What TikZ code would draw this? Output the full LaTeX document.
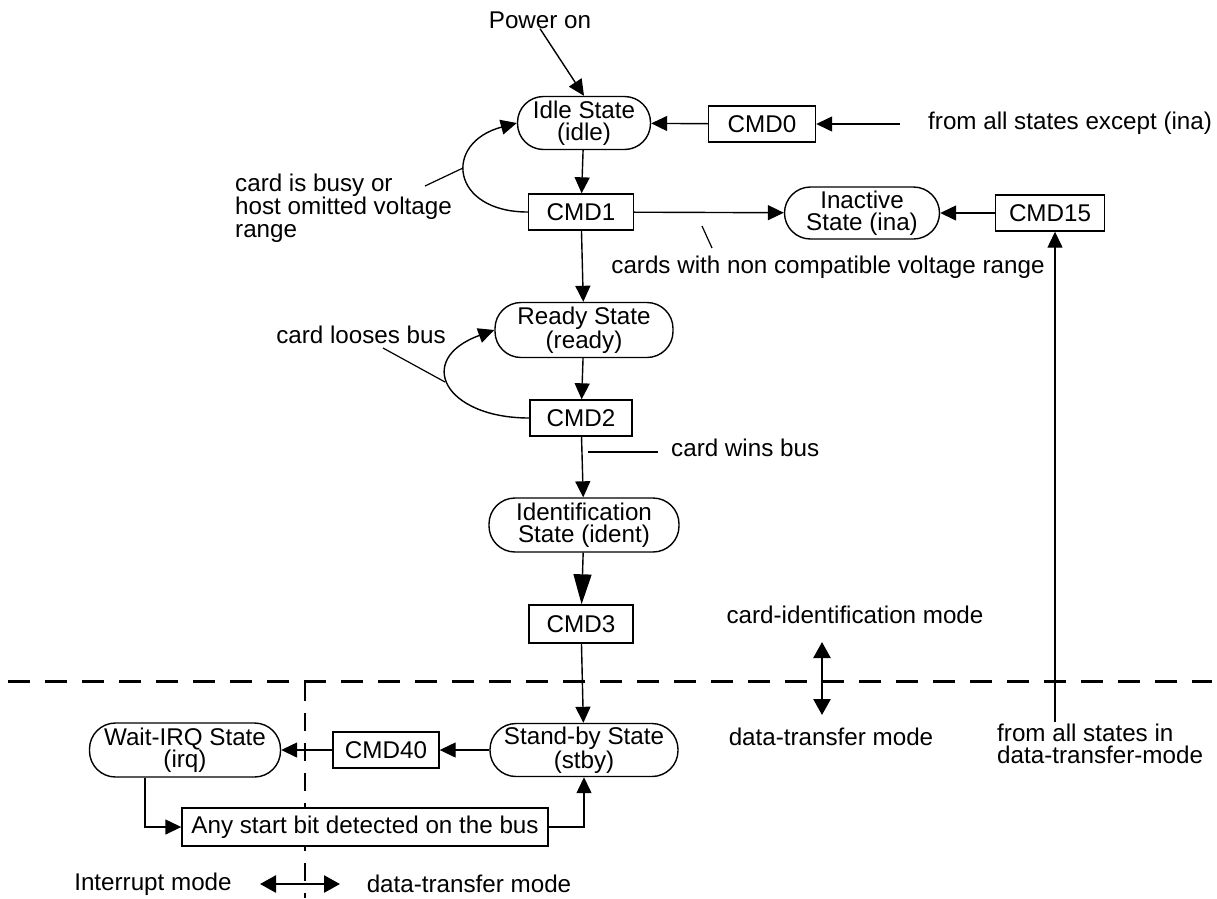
\documentclass[tikz,border=0pt]{standalone}
\usepackage{fontspec}
\setmainfont{Liberation Sans}
\usetikzlibrary{arrows.meta}

\begin{document}
\begin{tikzpicture}[x=1pt, y=-1pt,
  every node/.style={font=\fontsize{24.2}{22.5}\selectfont, align=center, inner sep=0pt},
  state/.style={draw, rectangle, rounded corners=26pt, fill=white, line width=1.4pt, minimum height=53pt},
  cmd/.style={draw, rectangle, fill=white, line width=1.4pt, minimum height=36pt},
  arr/.style={line width=1.4pt, -{Triangle[length=16pt,width=15pt]}},
  bigarr/.style={line width=1.4pt, -{Triangle[length=30pt,width=18pt]}},
  twoway/.style={line width=2.6pt, {Triangle[length=16pt,width=17pt]}-{Triangle[length=16pt,width=17pt]}},
  lead/.style={line width=1.2pt},
  modeline/.style={line width=3pt, dash pattern=on 22pt off 15pt},
  sideline/.style={line width=1.6pt, dash pattern=on 18pt off 12pt}]
  \useasboundingbox (0,0) rectangle (1217,898);
  \coordinate (dashL) at (8,681);
  \coordinate (dashR) at (1212,681);
  \coordinate (vdT) at (305,683);
  \coordinate (vdB) at (305,898);
  \draw[modeline] (dashL) -- (dashR);
  \draw[sideline] (vdT) -- (vdB);

  \node (pwr) at (540,20) {Power on};
  \node[state, minimum width=133pt] (idle) at (584,123) {Idle State\\(idle)};
  \node[cmd, minimum width=107pt] (cmd0) at (762,124) {CMD0};
  \coordinate (exc) at (900,124);
  \node[anchor=west] (excl) at (928,123) {from all states except (ina)};
  \node[cmd, minimum width=105pt] (cmd1) at (581,212) {CMD1};
  \node[state, minimum width=155pt, minimum height=52pt] (inact) at (862,213) {Inactive\\State (ina)};
  \node[cmd, minimum width=109pt] (cmd15) at (1050,213) {CMD15};
  \node[anchor=west, align=left] (busy) at (235,208) {card is busy or\\host omitted voltage\\range};
  \node (cnc) at (828,267) {cards with non compatible voltage range};
  \node[state, minimum width=178pt, minimum height=55pt] (ready) at (584,330) {Ready State\\(ready)};
  \node (loose) at (361,335) {card looses bus};
  \node[cmd, minimum width=102pt] (cmd2) at (581,418) {CMD2};
  \node[anchor=west] (wins) at (671,448) {card wins bus};
  \node[state, minimum width=190pt, minimum height=54pt] (ident) at (584,525) {Identification\\State (ident)};
  \node[cmd, minimum width=104pt, minimum height=38pt] (cmd3) at (581,624) {CMD3};
  \node (cidm) at (855,615) {card-identification mode};
  \node (dtm1) at (831,737) {data-transfer mode};
  \node[anchor=west, align=left] (allin) at (997,744) {from all states in\\data-transfer-mode};
  \node[state, minimum width=188pt] (stby) at (584,750) {Stand-by State\\(stby)};
  \node[cmd, minimum width=106pt] (cmd40) at (386,750) {CMD40};
  \node[state, minimum width=191pt, minimum height=54pt] (irq) at (185,750) {Wait-IRQ State\\(irq)};
  \node[cmd, minimum width=366pt, minimum height=38pt] (any) at (365,827) {Any start bit detected on the bus};
  \node (intm) at (153,884) {Interrupt mode};
  \node (dtm2) at (469,884) {data-transfer mode};

  \coordinate (busyA) at (425,186);
  \coordinate (busyB) at (463,168);
  \coordinate (cncA) at (702,226);
  \coordinate (cncB) at (712,248);
  \coordinate (looseA) at (383,348);
  \coordinate (looseB) at (445,382);
  \coordinate (winsA) at (588,452);
  \coordinate (winsB) at (658,452);
  \coordinate (fromdt) at (1055,722);
  \coordinate (udA) at (822,642);
  \coordinate (udB) at (822,715);
  \coordinate (lrA) at (260,884);
  \coordinate (lrB) at (340,884);

  \draw[arr] (pwr.south) -- (idle.north);
  \draw[arr] (exc) -- (cmd0);
  \draw[arr] (cmd0) -- (idle);
  \draw[arr] (idle) -- (cmd1);
  \draw[arr] (cmd1.west) to[out=180, in=195, looseness=2.2] (idle.west);
  \draw[lead] (busyA) -- (busyB);
  \draw[arr] (cmd1) -- (inact);
  \draw[arr] (cmd15) -- (inact);
  \draw[lead] (cncA) -- (cncB);
  \draw[arr] (fromdt) -- (fromdt |- cmd15.south);
  \draw[arr] (cmd1) -- (ready);
  \draw[arr] (ready) -- (cmd2);
  \draw[arr] (cmd2.west) to[out=180, in=200, looseness=2.3] (ready.west);
  \draw[lead] (looseA) -- (looseB);
  \draw[arr] (cmd2) -- (ident);
  \draw[lead] (winsA) -- (winsB);
  \draw[bigarr] (ident) -- (cmd3);
  \draw[twoway] (udA) -- (udB);
  \draw[arr] (cmd3) -- (stby);
  \draw[arr] (stby) -- (cmd40);
  \draw[arr] (cmd40) -- (irq);
  \draw[arr] ([xshift=-40pt]irq.south) |- (any.west);
  \draw[arr] (any.east) -| (stby.south);
  \draw[twoway] (lrA) -- (lrB);
\end{tikzpicture}
\end{document}
